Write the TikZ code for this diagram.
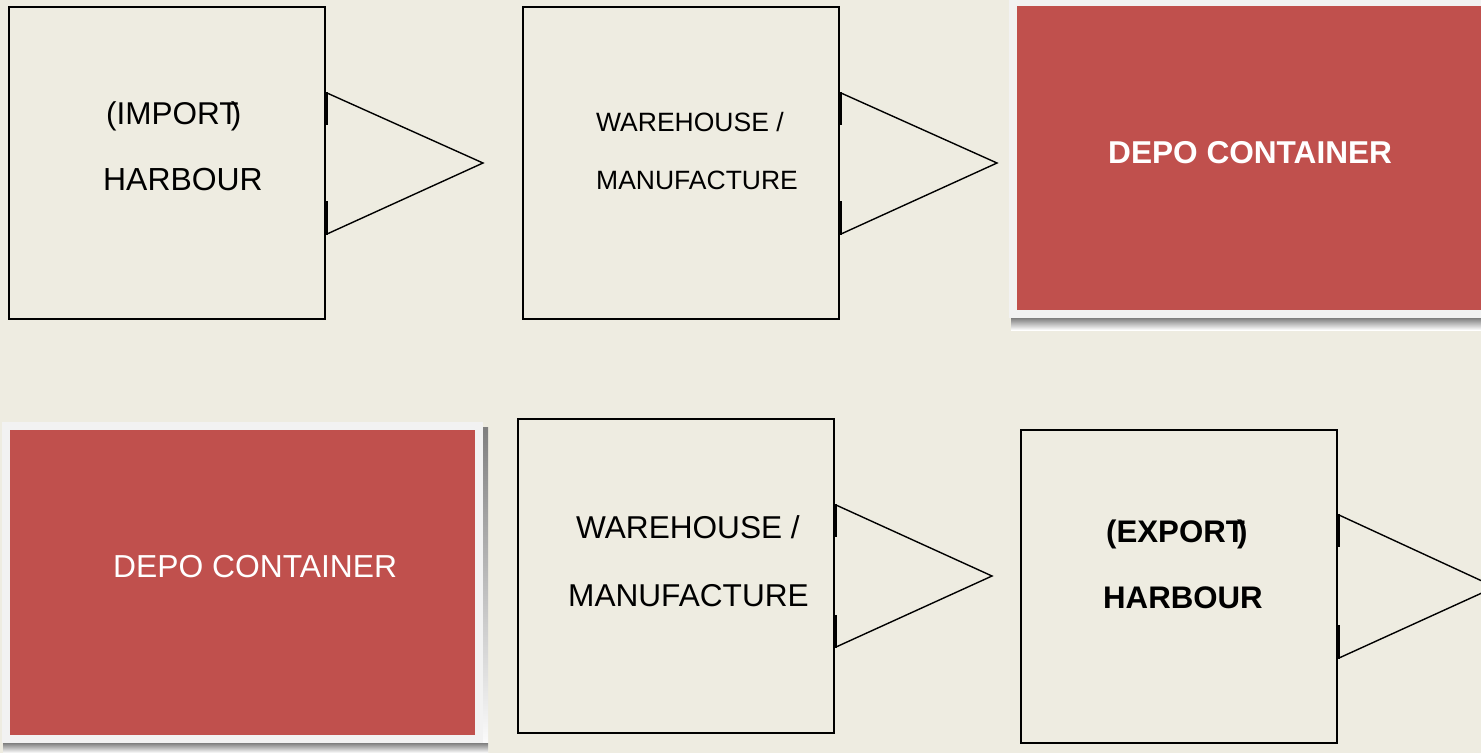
\documentclass[tikz,border=0pt]{standalone}
\usepackage{fontspec}
\setmainfont{Liberation Sans}
\definecolor{bg}{RGB}{238,236,225}
\definecolor{depored}{RGB}{192,80,77}
\definecolor{framewhite}{RGB}{242,242,242}
\definecolor{shade}{RGB}{165,133,130}
\tikzset{
  flowbox/.style={draw=black, line width=1.4pt, minimum width=316pt, minimum height=312pt, inner sep=0pt},
  chevron/.style={draw=black, line width=1.4pt, line join=miter},
  chevbase/.style={draw=black, line width=2.6pt},
  lbl/.style={anchor=base west, inner sep=0pt, text=black},
  redlbl/.style={anchor=base west, inner sep=0pt, text=white}
}
\begin{document}
\begin{tikzpicture}[x=1pt,y=-1pt]
\fill[bg] (0,0) rectangle (1481,753);
\useasboundingbox (0,0) rectangle (1481,753);
% top-right red box
\fill[shade] (1011,318) rectangle (1481,330);
\fill[framewhite] (1009,0) rectangle (1481,318);
\node[fill=depored, minimum width=464pt, minimum height=304pt, inner sep=0pt] (red1) at (1249,158) {};
% bottom-left red box
\fill[shade] (483,427) rectangle (488,753);
\fill[shade] (3,743) rectangle (488,753);
\fill[framewhite] (2,422) rectangle (483,743);
\node[fill=depored, minimum width=465pt, minimum height=305pt, inner sep=0pt] (red2) at (242.5,582.5) {};
% plain boxes
\node[flowbox] (b1) at (167,163) {};
\node[flowbox] (b2) at (681,163) {};
\node[flowbox, minimum height=314pt] (b3) at (676,576) {};
\node[flowbox, minimum height=313pt] (b4) at (1179,586.5) {};
% chevrons
\draw[chevron] (327,93) -- (483,163) -- (327,234);
\draw[chevbase] (327,92) -- (327,125) (327,201) -- (327,235);
\draw[chevron] (841,93) -- (997,163) -- (841,234);
\draw[chevbase] (841,92) -- (841,125) (841,201) -- (841,235);
\draw[chevron] (836,505) -- (992,576) -- (836,647);
\draw[chevbase] (836,504) -- (836,537) (836,615) -- (836,648);
\draw[chevron] (1339,515) -- (1495,587) -- (1339,658);
\draw[chevbase] (1339,514) -- (1339,547) (1339,625) -- (1339,659);
% texts
\node[lbl, font=\fontsize{31.5pt}{37pt}\selectfont] (t1a) at (106,124) {(IMPORT\kern-0.25em)};
\node[lbl, font=\fontsize{31.9pt}{37pt}\selectfont] (t1b) at (103,190) {HARBOUR};
\node[lbl, font=\fontsize{26.5pt}{31pt}\selectfont] (t2a) at (596,131) {WAREHOUSE /};
\node[lbl, font=\fontsize{26.5pt}{31pt}\selectfont] (t2b) at (596,189) {MANUFACTURE};
\node[redlbl, font=\fontsize{31.6pt}{37pt}\selectfont\bfseries] (t3) at (1108,163) {DEPO CONTAINER};
\node[redlbl, font=\fontsize{31.8pt}{37pt}\selectfont] (t4) at (113,577) {DEPO CONTAINER};
\node[lbl, font=\fontsize{31.6pt}{37pt}\selectfont] (t5a) at (576,538) {WAREHOUSE /};
\node[lbl, font=\fontsize{31.6pt}{37pt}\selectfont] (t5b) at (568,606) {MANUFACTURE};
\node[lbl, font=\fontsize{31.2pt}{37pt}\selectfont\bfseries] (t6a) at (1106,542) {(EXPORT\kern-0.25em)};
\node[lbl, font=\fontsize{31.2pt}{37pt}\selectfont\bfseries] (t6b) at (1103,608) {HARBOUR};
\end{tikzpicture}
\end{document}
